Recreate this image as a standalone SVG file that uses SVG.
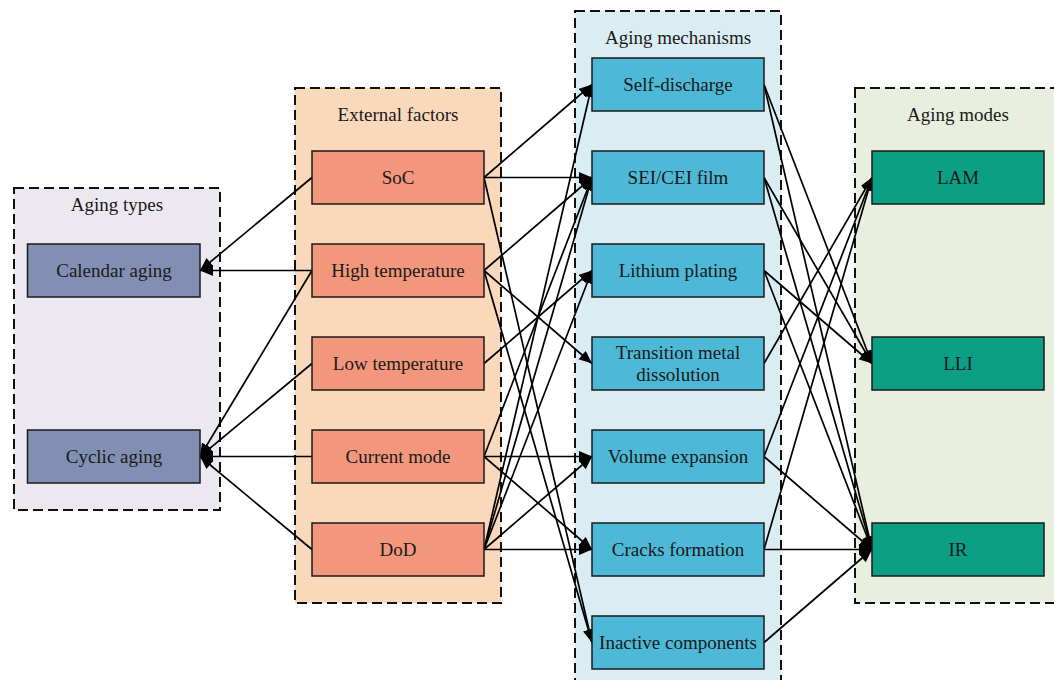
<svg xmlns="http://www.w3.org/2000/svg" width="1054" height="680" viewBox="0 0 1054 680">
<defs>
<marker id="arr" markerUnits="userSpaceOnUse" markerWidth="15" markerHeight="12" refX="13" refY="5.5" orient="auto">
<path d="M0,0 L13,5.5 L0,11 z" fill="#000"/>
</marker>
<style>
.grp{stroke:#111;stroke-width:2;stroke-dasharray:10 5}
.box{stroke:#1a1a1a;stroke-width:1.5}
.t{font-family:"Liberation Serif","Times New Roman",serif;font-size:19px;fill:#1a1a1a;text-anchor:middle}
.c line{stroke:#000;stroke-width:1.7;marker-end:url(#arr)}
.ty{fill:#8190B2}
.ef{fill:#F2977C}
.me{fill:#4DB9D6}
.mo{fill:#0BA085}
</style>
</defs>
<rect width="1054" height="680" fill="#fff"/>
<g id="cluster-types"><rect class="grp" x="14" y="188" width="206" height="322" fill="#ECE8F0"/><text class="t" x="117" y="211">Aging types</text></g>
<g id="cluster-factors"><rect class="grp" x="295" y="88" width="206" height="515" fill="#FAD8BC"/><text class="t" x="398" y="121">External factors</text></g>
<g id="cluster-mechanisms"><rect class="grp" x="575" y="11" width="206" height="680" fill="#DAEDF3"/><text class="t" x="678" y="44">Aging mechanisms</text></g>
<g id="cluster-modes"><rect class="grp" x="855" y="88" width="210" height="515" fill="#E9EFDF"/><text class="t" x="958" y="121">Aging modes</text></g>
<g id="connectors" class="c">
<line x1="312" y1="177.5" x2="200" y2="270.5"/>
<line x1="312" y1="270.5" x2="200" y2="270.5"/>
<line x1="312" y1="270.5" x2="200" y2="456.5"/>
<line x1="312" y1="363.5" x2="200" y2="456.5"/>
<line x1="312" y1="456.5" x2="200" y2="456.5"/>
<line x1="312" y1="549.5" x2="200" y2="456.5"/>
<line x1="484" y1="177.5" x2="592" y2="84.5"/>
<line x1="484" y1="177.5" x2="592" y2="177.5"/>
<line x1="484" y1="177.5" x2="592" y2="642.5"/>
<line x1="484" y1="270.5" x2="592" y2="177.5"/>
<line x1="484" y1="270.5" x2="592" y2="363.5"/>
<line x1="484" y1="270.5" x2="592" y2="642.5"/>
<line x1="484" y1="363.5" x2="592" y2="270.5"/>
<line x1="484" y1="456.5" x2="592" y2="177.5"/>
<line x1="484" y1="456.5" x2="592" y2="456.5"/>
<line x1="484" y1="456.5" x2="592" y2="549.5"/>
<line x1="484" y1="549.5" x2="592" y2="84.5"/>
<line x1="484" y1="549.5" x2="592" y2="177.5"/>
<line x1="484" y1="549.5" x2="592" y2="270.5"/>
<line x1="484" y1="549.5" x2="592" y2="456.5"/>
<line x1="484" y1="549.5" x2="592" y2="549.5"/>
<line x1="764" y1="84.5" x2="872" y2="363.5"/>
<line x1="764" y1="84.5" x2="872" y2="549.5"/>
<line x1="764" y1="177.5" x2="872" y2="363.5"/>
<line x1="764" y1="177.5" x2="872" y2="549.5"/>
<line x1="764" y1="270.5" x2="872" y2="363.5"/>
<line x1="764" y1="270.5" x2="872" y2="549.5"/>
<line x1="764" y1="363.5" x2="872" y2="177.5"/>
<line x1="764" y1="456.5" x2="872" y2="177.5"/>
<line x1="764" y1="456.5" x2="872" y2="549.5"/>
<line x1="764" y1="549.5" x2="872" y2="177.5"/>
<line x1="764" y1="549.5" x2="872" y2="549.5"/>
<line x1="764" y1="642.5" x2="872" y2="549.5"/>
</g>
<g id="calendar-aging"><rect class="box ty" x="27.5" y="244" width="172.5" height="53"/><text class="t" x="114" y="277">Calendar aging</text></g>
<g id="cyclic-aging"><rect class="box ty" x="27.5" y="430" width="172.5" height="53"/><text class="t" x="114" y="463">Cyclic aging</text></g>
<g id="soc"><rect class="box ef" x="312" y="151" width="172" height="53"/><text class="t" x="398" y="184">SoC</text></g>
<g id="high-temperature"><rect class="box ef" x="312" y="244" width="172" height="53"/><text class="t" x="398" y="277">High temperature</text></g>
<g id="low-temperature"><rect class="box ef" x="312" y="337" width="172" height="53"/><text class="t" x="398" y="370">Low temperature</text></g>
<g id="current-mode"><rect class="box ef" x="312" y="430" width="172" height="53"/><text class="t" x="398" y="463">Current mode</text></g>
<g id="dod"><rect class="box ef" x="312" y="523" width="172" height="53"/><text class="t" x="398" y="556">DoD</text></g>
<g id="self-discharge"><rect class="box me" x="592" y="58" width="172" height="53"/><text class="t" x="678" y="91">Self-discharge</text></g>
<g id="sei-cei-film"><rect class="box me" x="592" y="151" width="172" height="53"/><text class="t" x="678" y="184">SEI/CEI film</text></g>
<g id="lithium-plating"><rect class="box me" x="592" y="244" width="172" height="53"/><text class="t" x="678" y="277">Lithium plating</text></g>
<g id="transition-metal-dissolution"><rect class="box me" x="592" y="337" width="172" height="53"/><text class="t" x="678" y="359">Transition metal</text><text class="t" x="678" y="381">dissolution</text></g>
<g id="volume-expansion"><rect class="box me" x="592" y="430" width="172" height="53"/><text class="t" x="678" y="463">Volume expansion</text></g>
<g id="cracks-formation"><rect class="box me" x="592" y="523" width="172" height="53"/><text class="t" x="678" y="556">Cracks formation</text></g>
<g id="inactive-components"><rect class="box me" x="592" y="616" width="172" height="53"/><text class="t" x="678" y="649">Inactive components</text></g>
<g id="lam"><rect class="box mo" x="872" y="151" width="172" height="53"/><text class="t" x="958" y="184">LAM</text></g>
<g id="lli"><rect class="box mo" x="872" y="337" width="172" height="53"/><text class="t" x="958" y="370">LLI</text></g>
<g id="ir"><rect class="box mo" x="872" y="523" width="172" height="53"/><text class="t" x="958" y="556">IR</text></g>
</svg>
